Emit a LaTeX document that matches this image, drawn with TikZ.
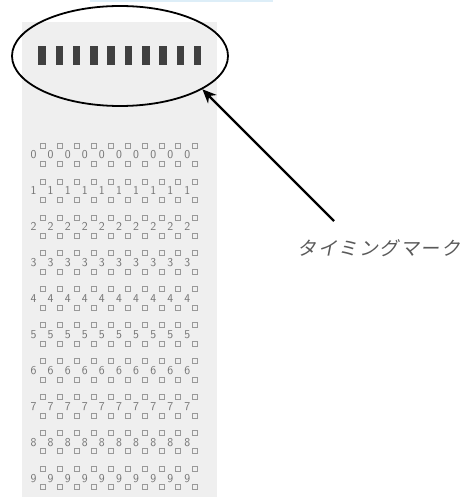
\documentclass[tikz,border=0pt]{standalone}
\usepackage{fontspec}
\newfontfamily\jpfont[FakeSlant=0.2,LetterSpace=8]{Noto Sans CJK JP}
\usetikzlibrary{shapes.geometric,arrows.meta}
\definecolor{cardgray}{HTML}{EFEFEF}
\definecolor{topblue}{HTML}{DDEEF8}
\tikzset{
  tmark/.style={fill=black!75,draw=none,minimum width=7.5pt,minimum height=19pt,inner sep=0pt},
  digit/.style={font=\sffamily\fontsize{12}{12}\selectfont,text=black!55,inner sep=0pt},
  sq/.style={draw=black!40,line width=0.6pt,minimum size=5pt,inner sep=0pt},
}
\begin{document}
\begin{tikzpicture}[x=1pt,y=-1pt]
\useasboundingbox (0,0) rectangle (464,497);
\fill[topblue] (90,0) rectangle (273,2.5);
\fill[cardgray] (22,22) rectangle (217,497);
\foreach \i in {0,...,9} {
  \node[tmark] (m\i) at ({42+17.3*\i},55.5) {};
}
\node[draw,line width=1.8pt,ellipse,minimum width=216pt,minimum height=100pt,inner sep=0pt] (ell) at (120,56) {};
\foreach \r in {0,...,9} {
  \foreach \c in {0,...,9} {
    \node[digit] (d\r-\c) at ({33.5+17.1*\c},{155+35.9*\r}) {\r};
    \node[sq] (u\r-\c) at ({43+16.9*\c},{155+35.9*\r-9.5}) {};
    \node[sq] (b\r-\c) at ({43+16.9*\c},{155+35.9*\r+9}) {};
  }
}
\coordinate (tail) at (334,221);
\draw[line width=2.3pt,-{Stealth[length=14pt,width=12pt]}] (tail) -- (ell.-22);
\node[text=black!65,font=\fontsize{19}{20}\jpfont] (lbl) at (379,248) {タイミングマーク};
\end{tikzpicture}
\end{document}
